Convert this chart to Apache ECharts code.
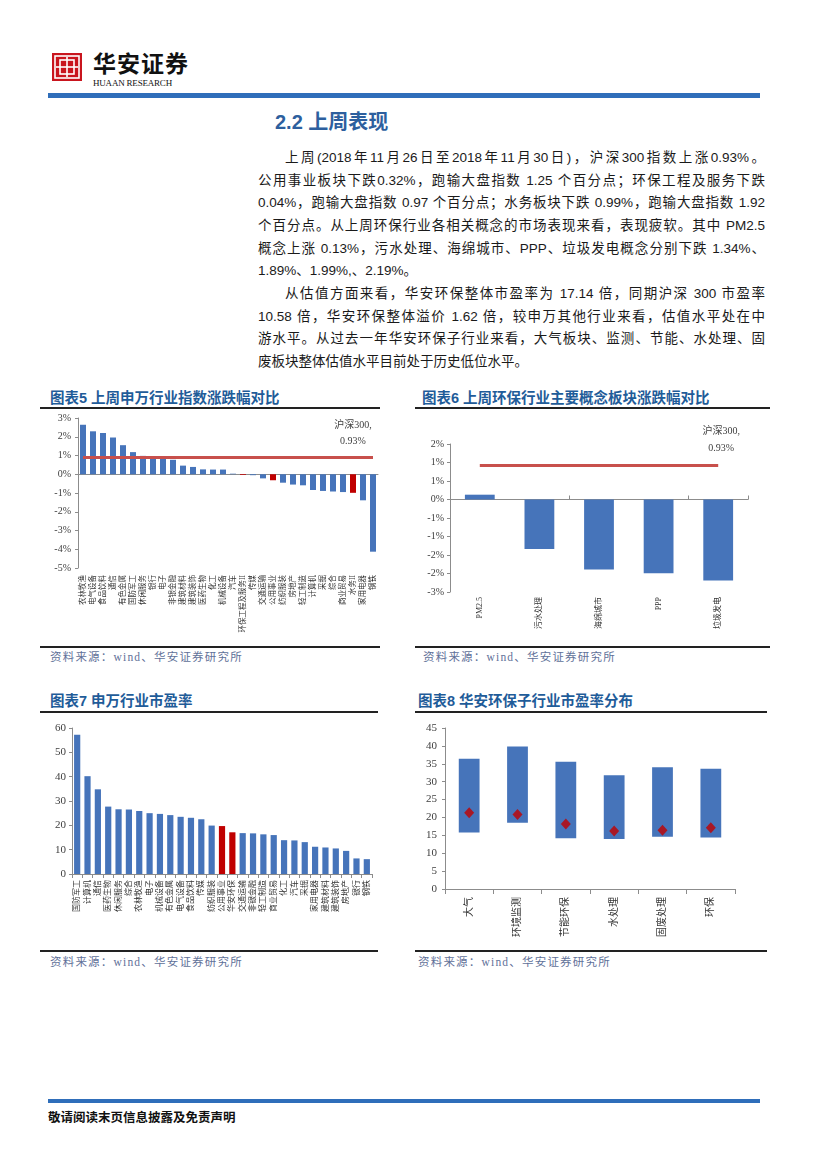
<!DOCTYPE html>
<html lang="zh-CN">
<head>
<meta charset="utf-8">
<title>华安证券 2.2 上周表现</title>
<script src="https://cdn.jsdelivr.net/npm/echarts/dist/echarts.min.js"></script>
<style>
html,body{margin:0;padding:0;background:#fff;}
body{width:827px;height:1169px;position:relative;overflow:hidden;font-family:"Liberation Sans","Noto Sans CJK SC",sans-serif;color:#222;}
.abs{position:absolute;}
.pline{position:absolute;left:258px;width:507px;height:20px;line-height:20px;font-size:13.5px;text-align:justify;text-align-last:justify;color:#1a1a1a;}
.pline.last{text-align-last:left;}
.ind{padding-left:27px;width:480px;}
.ctitle{position:absolute;font-size:14.5px;font-weight:bold;color:#1F5C99;line-height:16px;white-space:nowrap;font-family:"Liberation Sans","Noto Sans CJK SC";}
.rule{position:absolute;height:1.5px;background:#222;}
.src{position:absolute;font-size:11.5px;letter-spacing:1.2px;color:#5F7199;line-height:14px;font-family:"Liberation Serif","Noto Sans CJK SC";white-space:nowrap;}
.chart{position:absolute;}
</style>
</head>
<body>
<svg class="abs" style="left:52px;top:53px" width="30" height="28" viewBox="0 0 30 28">
  <rect width="30" height="28" fill="#C9151E"/>
  <rect x="3" y="3" width="24" height="22" fill="none" stroke="#fff" stroke-width="1.6"/>
  <rect x="8" y="7" width="14" height="14" fill="none" stroke="#fff" stroke-width="1.6"/>
  <line x1="15" y1="4" x2="15" y2="24" stroke="#fff" stroke-width="1.6"/>
  <line x1="4" y1="14" x2="26" y2="14" stroke="#fff" stroke-width="1.6"/>
</svg>
<div class="abs" style="left:93px;top:48px;font-size:23px;font-weight:bold;letter-spacing:1px;font-family:'Noto Sans CJK SC';color:#111;line-height:28px;">华安证券</div>
<div class="abs" style="left:93px;top:78px;font-size:9px;font-family:'Liberation Serif';color:#111;letter-spacing:-0.2px;line-height:10px;">HUAAN RESEARCH</div>
<div class="abs" style="left:48px;top:93px;width:712px;height:5px;background:#2F6EBA;"></div>

<div class="abs" style="left:275px;top:109px;font-size:20px;font-weight:bold;color:#2D5F9E;line-height:26px;font-family:'Liberation Sans','Noto Sans CJK SC';">2.2 上周表现</div>

<div class="pline ind" style="top:148px;">上周(2018年11月26日至2018年11月30日)，沪深300指数上涨0.93%。</div>
<div class="pline" style="top:171px;">公用事业板块下跌0.32%，跑输大盘指数 1.25 个百分点；环保工程及服务下跌</div>
<div class="pline" style="top:193px;">0.04%，跑输大盘指数 0.97 个百分点；水务板块下跌 0.99%，跑输大盘指数 1.92</div>
<div class="pline" style="top:216px;">个百分点。从上周环保行业各相关概念的市场表现来看，表现疲软。其中 PM2.5</div>
<div class="pline" style="top:239px;">概念上涨 0.13%，污水处理、海绵城市、PPP、垃圾发电概念分别下跌 1.34%、</div>
<div class="pline last" style="top:261px;">1.89%、1.99%,、2.19%。</div>
<div class="pline ind" style="top:284px;">从估值方面来看，华安环保整体市盈率为 17.14 倍，同期沪深 300 市盈率</div>
<div class="pline" style="top:307px;">10.58 倍，华安环保整体溢价 1.62 倍，较申万其他行业来看，估值水平处在中</div>
<div class="pline" style="top:329px;">游水平。从过去一年华安环保子行业来看，大气板块、监测、节能、水处理、固</div>
<div class="pline last" style="top:352px;">废板块整体估值水平目前处于历史低位水平。</div>

<div class="ctitle" style="left:50px;top:390px;">图表5 上周申万行业指数涨跌幅对比</div>
<div class="rule" style="left:40px;top:407px;width:340px;"></div>
<div class="ctitle" style="left:422px;top:390px;">图表6 上周环保行业主要概念板块涨跌幅对比</div>
<div class="rule" style="left:415px;top:407px;width:355px;"></div>

<div id="c5" class="chart" style="left:40px;top:410px;width:340px;height:235px;"></div>
<div id="c6" class="chart" style="left:415px;top:410px;width:360px;height:235px;"></div>

<div class="rule" style="left:40px;top:646px;width:340px;"></div>
<div class="rule" style="left:415px;top:646px;width:355px;"></div>
<div class="src" style="left:50px;top:650px;">资料来源：wind、华安证券研究所</div>
<div class="src" style="left:423px;top:650px;">资料来源：wind、华安证券研究所</div>

<div class="ctitle" style="left:50px;top:693px;">图表7 申万行业市盈率</div>
<div class="rule" style="left:40px;top:711px;width:338px;"></div>
<div class="ctitle" style="left:418px;top:693px;">图表8 华安环保子行业市盈率分布</div>
<div class="rule" style="left:415px;top:711px;width:352px;"></div>

<div id="c7" class="chart" style="left:40px;top:715px;width:340px;height:232px;"></div>
<div id="c8" class="chart" style="left:415px;top:715px;width:360px;height:232px;"></div>

<div class="rule" style="left:40px;top:950px;width:338px;"></div>
<div class="rule" style="left:415px;top:950px;width:352px;"></div>
<div class="src" style="left:50px;top:955px;">资料来源：wind、华安证券研究所</div>
<div class="src" style="left:418px;top:955px;">资料来源：wind、华安证券研究所</div>

<div class="abs" style="left:48px;top:1099px;width:712px;height:4px;background:#2F6EBA;"></div>
<div class="abs" style="left:48px;top:1109px;font-size:12.5px;font-weight:bold;font-family:'Noto Sans CJK SC';color:#111;line-height:16px;">敬请阅读末页信息披露及免责声明</div>

<script>
// ---------- data ----------
const cat5 = ['农林牧渔','电气设备','食品饮料','通信','有色金属','国防军工','休闲服务','银行','电子','非银金融','建筑材料','建筑装饰','医药生物','化工','机械设备','汽车','环保工程及服务II','传媒','交通运输','公用事业','纺织服装','房地产','轻工制造','计算机','采掘','综合','商业贸易','水务II','家用电器','钢铁'];
const chg5 = [2.64,2.29,2.20,1.96,1.55,1.18,0.98,0.95,0.88,0.77,0.46,0.39,0.26,0.25,0.25,0.03,-0.04,-0.05,-0.22,-0.32,-0.45,-0.55,-0.59,-0.84,-0.89,-0.92,-0.95,-0.99,-1.39,-4.13];
const hl5 = ['环保工程及服务II','公用事业','水务II'];

const hs300Name = '沪深300';
const hs300Chg = 0.93;

const cat6 = ['PM2.5','污水处理','海绵城市','PPP','垃圾发电'];
const chg6 = [0.13,-1.34,-1.89,-1.99,-2.19];

const cat7 = ['国防军工','计算机','通信','医药生物','休闲服务','综合','农林牧渔','电子','机械设备','有色金属','电气设备','食品饮料','传媒','纺织服装','公用事业','华安环保','交通运输','非银金融','轻工制造','商业贸易','化工','汽车','采掘','家用电器','建筑材料','建筑装饰','房地产','银行','钢铁'];
const pe7 = [57.2,40.2,34.8,27.7,26.6,26.5,25.9,25.0,24.7,24.2,23.5,23.1,22.5,19.9,19.7,17.14,16.8,16.7,16.3,16.0,13.9,13.8,13.1,11.2,10.9,10.5,9.5,6.4,6.1];
const hl7 = ['公用事业','华安环保'];

const cat8 = ['大气','环境监测','节能环保','水处理','固废处理','环保'];
const peMin8 = [15.8,18.5,14.2,14.0,14.6,14.4];
const peMax8 = [36.4,39.8,35.6,31.8,34.0,33.6];
const peNow8 = [21.3,20.8,18.2,16.2,16.4,17.14];

// ---------- styles ----------
const BLUE = '#4674BA';
const RED = '#C00000';
const LINE_RED = '#C8504C';
const AX = '#8C8C8C';
const NUMFONT = '"Liberation Serif","Times New Roman",serif';
const CATFONT = '"Liberation Serif","Noto Sans CJK SC",serif';

function valAxis(min, max, interval, fmt, size, margin) {
  return {
    type: 'value', min: min, max: max, interval: interval,
    axisLine: {show: true, lineStyle: {color: AX, width: 1}},
    axisTick: {show: true, length: 3, lineStyle: {color: AX}},
    splitLine: {show: false},
    axisLabel: {formatter: fmt, fontSize: size, color: '#404040', fontFamily: NUMFONT, margin: margin}
  };
}
function hsMarks(n, offsetX, lh, dist) {
  return {
    markLine: {
      silent: true, symbol: 'none', animation: false,
      label: {show: false},
      lineStyle: {color: LINE_RED, width: 3, type: 'solid'},
      emphasis: {disabled: true},
      data: [[{coord: [0, hs300Chg]}, {coord: [n - 1, hs300Chg]}]]
    },
    markPoint: {
      silent: true, symbol: 'circle', symbolSize: 0, animation: false,
      itemStyle: {color: 'rgba(0,0,0,0)'},
      data: [{coord: [n - 1, hs300Chg], value: hs300Chg}],
      label: {
        show: true, position: 'top', distance: dist, offset: [offsetX, 0],
        formatter: () => hs300Name + ',\n' + hs300Chg.toFixed(2) + '%',
        fontSize: 10, lineHeight: lh, color: '#404040', fontFamily: CATFONT, align: 'center'
      }
    }
  };
}

// ---------- chart 5 ----------
const c5 = echarts.init(document.getElementById('c5'), null, {renderer: 'canvas'});
c5.setOption({
  animation: false,
  grid: {left: 38, top: 8, width: 300, height: 150, containLabel: false, outerBoundsMode: 'none'},
  xAxis: [
    {type: 'category', data: cat5, axisLine: {onZero: true, lineStyle: {color: AX}}, axisTick: {show: false}, axisLabel: {show: false}},
    {type: 'category', data: cat5, position: 'bottom', axisLine: {show: false, onZero: false}, axisTick: {show: false},
     axisLabel: {rotate: 90, interval: 0, fontSize: 7.5, margin: 7, color: '#333', fontFamily: CATFONT}}
  ],
  yAxis: valAxis(-5, 3, 1, v => v + '%', 10, 7),
  series: [Object.assign({
    type: 'bar', xAxisIndex: 0, barWidth: '60%',
    data: chg5.map((v, i) => ({value: v, itemStyle: {color: hl5.includes(cat5[i]) ? RED : BLUE}}))
  }, hsMarks(cat5.length, -20, 16, 7))]
});

// ---------- chart 6 ----------
function roundPct(v) {
  const r = Math.sign(v) * Math.round(Math.abs(v));
  return (r === 0 ? 0 : r) + '%';
}
const c6 = echarts.init(document.getElementById('c6'), null, {renderer: 'canvas'});
c6.setOption({
  animation: false,
  grid: {left: 35, top: 34, width: 298, height: 148, containLabel: false, outerBoundsMode: 'none'},
  xAxis: [
    {type: 'category', data: cat6, axisLine: {onZero: true, lineStyle: {color: AX}}, axisTick: {show: true, inside: true, length: 4, lineStyle: {color: AX}}, axisLabel: {show: false}},
    {type: 'category', data: cat6, position: 'bottom', axisLine: {show: false, onZero: false}, axisTick: {show: false},
     axisLabel: {rotate: 90, interval: 0, fontSize: 8, margin: 5, color: '#333', fontFamily: CATFONT}}
  ],
  yAxis: valAxis(-2.5, 1.5, 0.5, roundPct, 10, 6),
  series: [Object.assign({
    type: 'bar', xAxisIndex: 0, barWidth: '50%',
    data: chg6, itemStyle: {color: BLUE}
  }, hsMarks(cat6.length, 3, 17, 8))]
});

// ---------- chart 7 ----------
const c7 = echarts.init(document.getElementById('c7'), null, {renderer: 'canvas'});
c7.setOption({
  animation: false,
  grid: {left: 32, top: 13, width: 300, height: 146, containLabel: false, outerBoundsMode: 'none'},
  xAxis: {type: 'category', data: cat7, axisLine: {lineStyle: {color: AX}}, axisTick: {show: true, length: 4, lineStyle: {color: AX}},
    axisLabel: {rotate: 90, interval: 0, fontSize: 8, margin: 6, color: '#333', fontFamily: CATFONT}},
  yAxis: valAxis(0, 60, 10, v => String(v), 11, 6),
  series: [{
    type: 'bar', barWidth: '60%',
    data: pe7.map((v, i) => ({value: v, itemStyle: {color: hl7.includes(cat7[i]) ? RED : BLUE}}))
  }]
});

// ---------- chart 8 ----------
const c8 = echarts.init(document.getElementById('c8'), null, {renderer: 'canvas'});
c8.setOption({
  animation: false,
  grid: {left: 30, top: 13, width: 290, height: 161, containLabel: false, outerBoundsMode: 'none'},
  xAxis: {type: 'category', data: cat8, axisLine: {lineStyle: {color: AX}}, axisTick: {show: true, length: 5, lineStyle: {color: AX}},
    axisLabel: {rotate: 90, interval: 0, fontSize: 10, margin: 8, color: '#333', fontFamily: CATFONT}},
  yAxis: valAxis(0, 45, 5, v => String(v), 11, 8),
  series: [
    {type: 'bar', stack: 'range', barWidth: '43%', data: peMin8, itemStyle: {color: 'rgba(0,0,0,0)'}, silent: true},
    {type: 'bar', stack: 'range', barWidth: '43%', data: peMax8.map((v, i) => +(v - peMin8[i]).toFixed(2)), itemStyle: {color: BLUE}},
    {type: 'scatter', data: peNow8, symbol: 'diamond', symbolSize: [10, 11], itemStyle: {color: RED}, z: 5}
  ]
});
</script>
</body>
</html>
